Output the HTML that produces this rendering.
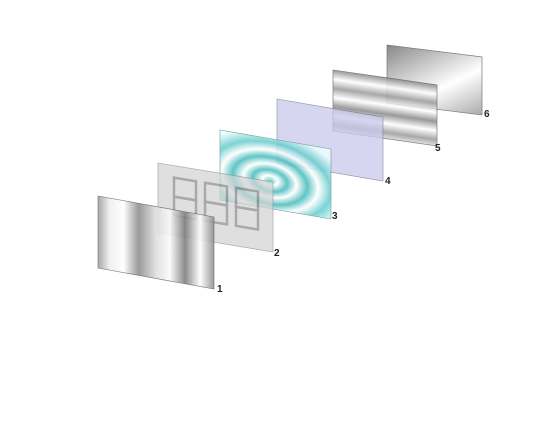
<!DOCTYPE html>
<html><head><meta charset="utf-8"><style>
html,body{margin:0;padding:0;background:#fff;width:535px;height:432px;overflow:hidden}
text{font-family:"Liberation Sans",sans-serif;font-weight:bold;font-size:10px;fill:#222}
</style></head><body>
<svg width="535" height="432" viewBox="0 0 535 432" xmlns="http://www.w3.org/2000/svg">
<defs>
<linearGradient id="g1" x1="0" y1="0" x2="1" y2="0">
<stop offset="0" stop-color="#999"/><stop offset="0.1" stop-color="#eee"/><stop offset="0.22" stop-color="#fff"/><stop offset="0.35" stop-color="#888"/><stop offset="0.5" stop-color="#ddd"/><stop offset="0.62" stop-color="#fafafa"/><stop offset="0.75" stop-color="#777"/><stop offset="0.88" stop-color="#fff"/><stop offset="1" stop-color="#888"/></linearGradient>
<linearGradient id="g5" x1="0" y1="0" x2="0" y2="1">
<stop offset="0" stop-color="#888"/><stop offset="0.15" stop-color="#fff"/><stop offset="0.3" stop-color="#999"/><stop offset="0.45" stop-color="#fff"/><stop offset="0.6" stop-color="#888"/><stop offset="0.75" stop-color="#fff"/><stop offset="0.9" stop-color="#999"/><stop offset="1" stop-color="#ddd"/></linearGradient>
<linearGradient id="g6" x1="0" y1="0" x2="1" y2="1">
<stop offset="0" stop-color="#888"/><stop offset="0.6" stop-color="#fff"/><stop offset="1" stop-color="#aaa"/></linearGradient>
<radialGradient id="g3" cx="0.45" cy="0.6" r="0.7">
<stop offset="0" stop-color="#5cc"/><stop offset="0.1" stop-color="#fff"/><stop offset="0.22" stop-color="#4bb"/><stop offset="0.34" stop-color="#fff"/><stop offset="0.48" stop-color="#4bb"/><stop offset="0.62" stop-color="#fff"/><stop offset="0.78" stop-color="#6cc"/><stop offset="1" stop-color="#eff"/></radialGradient>
</defs>
<g transform="translate(387,45) matrix(1,0.126,0,1,0,0)">
<rect width="95" height="58" fill="url(#g6)" stroke="#777" stroke-width="0.7"/></g>
<g transform="translate(333,70) matrix(1,0.144,0,1,0,0)" opacity="0.85">
<rect width="104" height="61" fill="url(#g5)" stroke="#666" stroke-width="0.7"/></g>
<g transform="translate(277,99) matrix(1,0.17,0,1,0,0)" opacity="0.75">
<rect width="106" height="64" fill="#c9c9ec" stroke="#778" stroke-width="0.7"/></g>
<g transform="translate(220,130) matrix(1,0.171,0,1,0,0)" opacity="0.85">
<rect width="111" height="70" fill="url(#g3)" stroke="#699" stroke-width="0.7"/></g>
<g transform="translate(158,163) matrix(1,0.165,0,1,0,0)" opacity="0.72">
<rect width="115" height="70" fill="#d4d4d4" stroke="#888" stroke-width="0.7"/>
<g fill="none" stroke="#888" stroke-width="2.5">
<rect x="16" y="12" width="22" height="19"/><rect x="16" y="31" width="22" height="19"/>
<rect x="47" y="12" width="22" height="19"/><rect x="47" y="31" width="22" height="19"/>
<rect x="78" y="12" width="22" height="19"/><rect x="78" y="31" width="22" height="19"/>
</g></g>
<g transform="translate(98,196) matrix(1,0.181,0,1,0,0)" opacity="0.85">
<rect width="116" height="72" fill="url(#g1)" stroke="#666" stroke-width="0.7"/></g>
<text x="217" y="292">1</text>
<text x="274" y="256">2</text>
<text x="332" y="219">3</text>
<text x="385" y="184">4</text>
<text x="435" y="151">5</text>
<text x="484" y="117">6</text>
</svg>
</body></html>
